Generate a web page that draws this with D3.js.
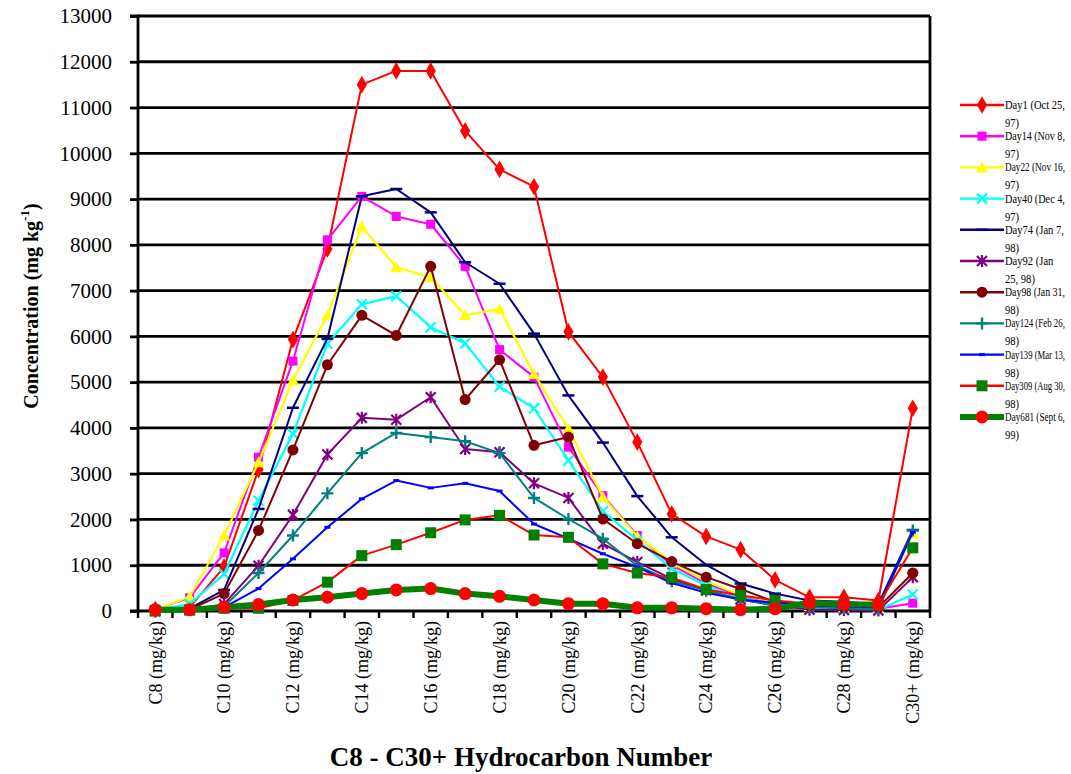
<!DOCTYPE html>
<html>
<head>
<meta charset="utf-8">
<script src="https://cdn.jsdelivr.net/npm/d3@7"></script>
<style>
  body { margin: 0; background: #fff; }
  svg { display: block; }
  text { font-family: "Liberation Serif", "Times New Roman", serif; }
</style>
</head>
<body>
<svg id="chart" width="1071" height="774"></svg>
<script>
// Carbon-number fractions (C8 ... C29, C30+)
const categories = ["C8","C9","C10","C11","C12","C13","C14","C15","C16","C17","C18","C19",
  "C20","C21","C22","C23","C24","C25","C26","C27","C28","C29","C30+"];
const categoryLabels = categories.map(c => c + " (mg/kg)");
const yTickValues = [0,1000,2000,3000,4000,5000,6000,7000,8000,9000,10000,11000,12000,13000];

// Concentration (mg/kg) per sampling day
const day1   = [30, 80, 960, 3090, 5930, 7910, 11500, 11800, 11800, 10490, 9650, 9270, 6100, 5110, 3690, 2120, 1630, 1340, 680, 300, 300, 230, 4430];
const day14  = [30, 290, 1270, 3360, 5460, 8110, 9060, 8620, 8450, 7530, 5710, 5110, 3580, 2520, 1650, 1000, 600, 320, 160, 100, 80, 50, 170];
const day22  = [20, 310, 1650, 3250, 5040, 6460, 8400, 7510, 7290, 6460, 6600, 5180, 3980, 2490, 1630, 1060, 650, 350, 200, 110, 80, 60, 1690];
const day40  = [20, 150, 810, 2410, 3870, 5840, 6700, 6880, 6200, 5850, 4900, 4430, 3290, 2180, 1550, 930, 550, 280, 150, 50, 30, 20, 360];
const day74  = [10, 50, 460, 2230, 4440, 5950, 9060, 9220, 8710, 7620, 7150, 6060, 4710, 3680, 2510, 1610, 1010, 600, 380, 230, 200, 150, 1770];
const day92  = [0, 20, 150, 990, 2100, 3420, 4220, 4180, 4670, 3540, 3470, 2790, 2470, 1470, 1070, 700, 450, 250, 120, 30, 20, 10, 740];
const day98  = [0, 30, 380, 1760, 3520, 5380, 6460, 6020, 7530, 4620, 5490, 3620, 3800, 2010, 1470, 1080, 740, 480, 200, 120, 80, 80, 830];
const day124 = [0, 20, 100, 830, 1650, 2570, 3450, 3890, 3800, 3710, 3450, 2470, 2010, 1580, 990, 650, 450, 250, 120, 80, 60, 40, 1760];
const day139 = [0, 10, 80, 490, 1140, 1830, 2450, 2850, 2690, 2790, 2620, 1900, 1580, 1250, 960, 610, 400, 250, 180, 130, 100, 80, 1720];
const day309 = [0, 20, 60, 60, 230, 630, 1210, 1450, 1710, 1990, 2090, 1660, 1610, 1030, 830, 730, 470, 340, 230, 160, 160, 140, 1380];
const day681 = [30, 30, 80, 140, 240, 300, 380, 460, 490, 380, 320, 240, 160, 160, 70, 70, 50, 30, 50, 180, 150, 140, null];

// Legend text (two lines per entry)
const legendLine1 = ["Day1 (Oct 25,", "Day14 (Nov 8,", "Day22 (Nov 16,", "Day40 (Dec 4,", "Day74 (Jan 7,",
  "Day92 (Jan", "Day98 (Jan 31,", "Day124 (Feb 26,", "Day139 (Mar 13,", "Day309 (Aug 30,", "Day681 (Sept 6,"];
const legendLine2 = ["97)", "97)", "97)", "97)", "98)", "25, 98)", "98)", "98)", "98)", "98)", "99)"];

const seriesValues = [day1, day14, day22, day40, day74, day92, day98, day124, day139, day309, day681];

// Line / marker appearance per series
const styles = [
  { line: "#FF0000", width: 2,   marker: "diamond",  mfill: "#FF0000" },
  { line: "#FF00FF", width: 2,   marker: "square",   mfill: "#FF00FF" },
  { line: "#FFFF00", width: 2.2, marker: "triangle", mfill: "#FFFF00" },
  { line: "#00FFFF", width: 2.2, marker: "x",        mfill: "#00FFFF" },
  { line: "#000080", width: 2,   marker: "dash",     mfill: "#000080" },
  { line: "#800080", width: 2,   marker: "asterisk", mfill: "#800080" },
  { line: "#800000", width: 2,   marker: "circle",   mfill: "#800000" },
  { line: "#008080", width: 2,   marker: "plus",     mfill: "#008080" },
  { line: "#0000FF", width: 2,   marker: "smalldash",mfill: "#0000FF" },
  { line: "#FF0000", width: 2,   marker: "bigsquare",mfill: "#008000" },
  { line: "#008000", width: 6,   marker: "bigcircle",mfill: "#FF0000" }
];

const svg = d3.select("#chart");
const plot = { left: 138, right: 930, top: 16, bottom: 611 };

const x = d3.scaleBand().domain(categories).range([plot.left, plot.right]).padding(0);
const y = d3.scaleLinear().domain([0, 13000]).range([plot.bottom, plot.top]);
const cx = c => x(c) + x.bandwidth() / 2;

// Horizontal grid lines
svg.append("g")
  .selectAll("line")
  .data(yTickValues.filter(v => v > 0))
  .join("line")
  .attr("x1", plot.left).attr("x2", plot.right)
  .attr("y1", d => y(d)).attr("y2", d => y(d))
  .attr("stroke", "#000").attr("stroke-width", 2.8);

// Right border
svg.append("line")
  .attr("x1", plot.right).attr("x2", plot.right)
  .attr("y1", plot.top).attr("y2", plot.bottom)
  .attr("stroke", "#000").attr("stroke-width", 2.8);

// Y axis
const yAxis = svg.append("g")
  .attr("transform", `translate(${plot.left},0)`)
  .call(d3.axisLeft(y).tickValues(yTickValues).tickSize(8).tickPadding(18).tickFormat(d3.format("d")));
yAxis.select(".domain").attr("stroke-width", 2.8).attr("d", `M-8,${plot.bottom}H0V${plot.top}H-8`);
yAxis.selectAll(".tick line").attr("stroke-width", 2.8);
yAxis.selectAll(".tick text")
  .attr("font-family", "Liberation Serif, serif")
  .attr("font-size", 21).attr("fill", "#000");

// X axis: labels on every other category, ticks at category boundaries
const xAxis = svg.append("g")
  .attr("transform", `translate(0,${plot.bottom})`)
  .call(d3.axisBottom(x).tickSize(0).tickPadding(0)
    .tickFormat((d, i) => i % 2 === 0 ? categoryLabels[i] : ""));
xAxis.select(".domain").attr("stroke-width", 2.8).attr("d", `M${plot.left},0H${plot.right}`);
xAxis.selectAll(".tick text")
  .attr("font-family", "Liberation Serif, serif")
  .attr("font-size", 18).attr("fill", "#000")
  .attr("transform", "rotate(-90)")
  .attr("text-anchor", "end")
  .attr("x", -10).attr("y", 0).attr("dy", "0.35em");

const boundaries = categories.map(c => x(c)).concat([plot.right]);
svg.append("g")
  .selectAll("line")
  .data(boundaries)
  .join("line")
  .attr("x1", d => d).attr("x2", d => d)
  .attr("y1", plot.bottom).attr("y2", plot.bottom + 7)
  .attr("stroke", "#000").attr("stroke-width", 2.4);

// Marker shapes
function drawMarker(g, kind, color) {
  switch (kind) {
    case "diamond":
      g.append("path").attr("d", d3.symbol(d3.symbolDiamond, 90)()).attr("fill", color); break;
    case "square":
      g.append("rect").attr("x", -4.5).attr("y", -4.5).attr("width", 9).attr("height", 9).attr("fill", color); break;
    case "triangle":
      g.append("path").attr("d", "M0,-6L6,5L-6,5Z").attr("fill", color); break;
    case "x":
      g.append("path").attr("d", "M-5,-5L5,5M-5,5L5,-5").attr("stroke", color).attr("stroke-width", 2.2).attr("fill", "none"); break;
    case "dash":
      g.append("path").attr("d", "M-6,0L6,0").attr("stroke", color).attr("stroke-width", 2.5); break;
    case "asterisk":
      g.append("path").attr("d", "M-5,-5L5,5M-5,5L5,-5M0,-6L0,6").attr("stroke", color).attr("stroke-width", 2.2).attr("fill", "none"); break;
    case "circle":
      g.append("circle").attr("r", 5.5).attr("fill", color); break;
    case "plus":
      g.append("path").attr("d", "M-6,0L6,0M0,-6L0,6").attr("stroke", color).attr("stroke-width", 2.4).attr("fill", "none"); break;
    case "smalldash":
      g.append("path").attr("d", "M-3,0L3,0").attr("stroke", color).attr("stroke-width", 3); break;
    case "bigsquare":
      g.append("rect").attr("x", -5.5).attr("y", -5.5).attr("width", 11).attr("height", 11).attr("fill", color); break;
    case "bigcircle":
      g.append("circle").attr("r", 6.5).attr("fill", color); break;
  }
}

const line = d3.line()
  .defined(d => d.v !== null)
  .x(d => cx(d.c))
  .y(d => y(d.v));

const plotArea = svg.append("g");
seriesValues.forEach((vals, si) => {
  const st = styles[si];
  const pts = vals.map((v, i) => ({ c: categories[i], v }));
  const g = plotArea.append("g");
  g.append("path")
    .datum(pts)
    .attr("d", line)
    .attr("fill", "none")
    .attr("stroke", st.line)
    .attr("stroke-width", st.width)
    .attr("stroke-linejoin", "round");
  pts.filter(p => p.v !== null).forEach(p => {
    const mg = g.append("g").attr("transform", `translate(${cx(p.c)},${y(p.v)})`);
    drawMarker(mg, st.marker, st.mfill);
  });
});

// Legend: condensed two-line labels kept inside the right margin
const legend = svg.append("g");
const maxLegendWidth = 60;
seriesValues.forEach((vals, si) => {
  const st = styles[si];
  const ly = 105 + si * 31.2;
  legend.append("line")
    .attr("x1", 960).attr("x2", 1004).attr("y1", ly).attr("y2", ly)
    .attr("stroke", st.line).attr("stroke-width", si === 10 ? 6 : 2.4);
  drawMarker(legend.append("g").attr("transform", `translate(982,${ly})`), st.marker, st.mfill);
  [legendLine1[si], legendLine2[si]].forEach((txt, k) => {
    const holder = legend.append("g");
    const t = holder.append("text")
      .attr("x", 0).attr("y", 0)
      .attr("font-size", 12).attr("fill", "#000")
      .text(txt);
    const w = t.node().getComputedTextLength();
    const s = Math.min(0.88, maxLegendWidth / w);
    holder.attr("transform", `translate(1005,${ly + 4 + k * 18}) scale(${s},1)`);
  });
});

// Axis titles
svg.append("text")
  .attr("x", 521).attr("y", 766)
  .attr("text-anchor", "middle")
  .attr("font-size", 27).attr("font-weight", "bold")
  .text("C8 - C30+ Hydrocarbon Number");

const yTitle = svg.append("text")
  .attr("transform", "translate(38,306) rotate(-90)")
  .attr("text-anchor", "middle")
  .attr("font-size", 20).attr("font-weight", "bold");
yTitle.append("tspan").text("Concentration (mg kg");
yTitle.append("tspan").attr("dy", -9).attr("font-size", 13).text("-1");
yTitle.append("tspan").attr("dy", 9).text(")");
</script>
</body>
</html>
